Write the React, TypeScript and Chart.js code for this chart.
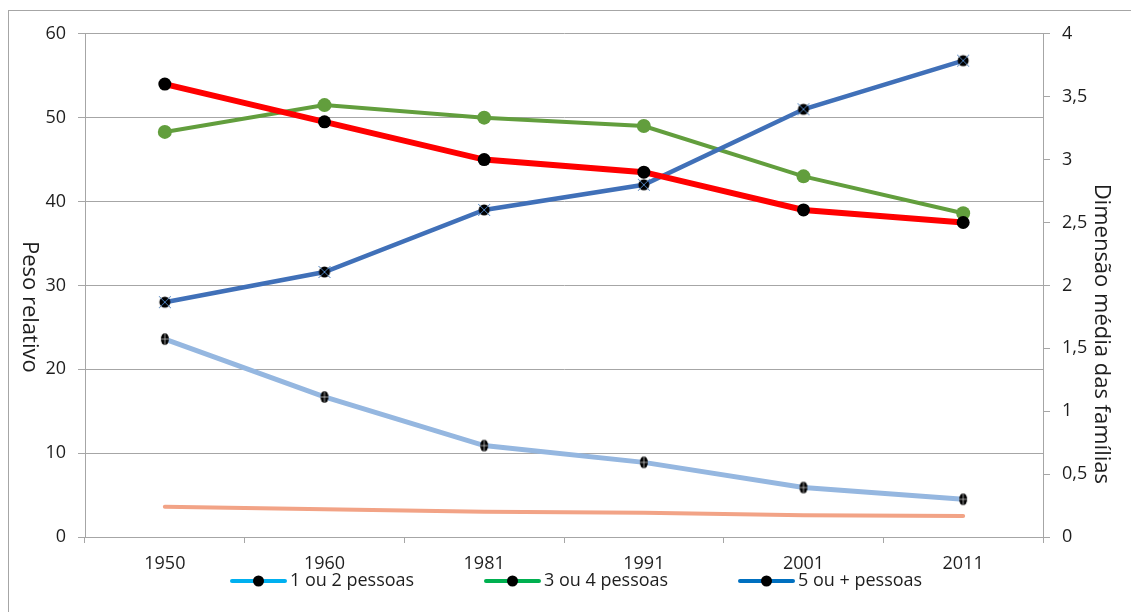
import React, { useEffect, useRef } from "react";
import { Chart, registerables } from "chart.js";

Chart.register(...registerables);

// ---- data ----
const categories = ["1950", "1960", "1981", "1991", "2001", "2011"];
const persons1or2 = [28, 31.6, 39, 42, 51, 56.8];
const persons3or4 = [48.3, 51.5, 50, 49, 43, 38.6];
const persons5plus = [23.6, 16.7, 10.9, 8.9, 5.9, 4.5];
const avgFamilySize = [3.6, 3.3, 3.0, 2.9, 2.6, 2.5];
const leftAxisMax = 60;
const leftAxisStep = 10;
const rightAxisMax = 4;
const rightAxisStep = 0.5;
const leftTitle = "Peso relativo";
const rightTitle = "Dimensão média das famílias";
const legendLabels = ["1 ou 2 pessoas", "3 ou 4 pessoas", "5 ou + pessoas"];
const legendColors = ["#00B0F0", "#00B050", "#0070C0"];

const FONT = '"Open Sans", "Noto Sans", sans-serif';
const TEXT = "#1e1e1e";
const GRID = "#A6A6A6";

function makeMarker(w: number, h: number, draw: (c: CanvasRenderingContext2D) => void) {
  const cv = document.createElement("canvas");
  cv.width = w;
  cv.height = h;
  const c = cv.getContext("2d")!;
  draw(c);
  return cv;
}

const decorPlugin = {
  id: "decor",
  afterDraw(chart: any) {
    const ctx = chart.ctx as CanvasRenderingContext2D;
    const area = chart.chartArea;
    ctx.save();
    ctx.fillStyle = TEXT;
    ctx.font = `22px ${FONT}`;
    ctx.textAlign = "center";
    ctx.textBaseline = "middle";
    // left axis title (rotated clockwise)
    ctx.save();
    ctx.translate(area.left - 56, area.top + 273);
    ctx.rotate(Math.PI / 2);
    ctx.fillText(leftTitle, 0, 0);
    ctx.restore();
    // right axis title
    ctx.save();
    ctx.translate(area.right + 58, area.top + 300);
    ctx.rotate(Math.PI / 2);
    ctx.fillText(rightTitle, 0, 0);
    ctx.restore();

    // legend
    ctx.font = `18px ${FONT}`;
    ctx.textAlign = "left";
    const ly = area.bottom + 44;
    legendLabels.forEach((lab, i) => {
      const x0 = 223 + i * 254;
      ctx.strokeStyle = legendColors[i];
      ctx.lineWidth = 4;
      ctx.lineCap = "round";
      ctx.beginPath();
      ctx.moveTo(x0, ly);
      ctx.lineTo(x0 + 53, ly);
      ctx.stroke();
      ctx.fillStyle = "#000";
      ctx.beginPath();
      ctx.arc(x0 + 26.5, ly, 5.5, 0, Math.PI * 2);
      ctx.fill();
      ctx.fillStyle = TEXT;
      ctx.fillText(lab, x0 + 58, ly);
    });
    ctx.restore();
  },
};

export default function App() {
  const ref = useRef<HTMLCanvasElement | null>(null);

  useEffect(() => {
    if (!ref.current) return;
    const darkBlueMarker = makeMarker(16, 16, (c) => {
      c.fillStyle = "#000";
      c.beginPath();
      c.arc(8, 8, 5.5, 0, Math.PI * 2);
      c.fill();
      c.strokeStyle = "#4F81BD";
      c.lineWidth = 1;
      c.beginPath();
      c.moveTo(2, 2);
      c.lineTo(14, 14);
      c.moveTo(14, 2);
      c.lineTo(2, 14);
      c.stroke();
    });
    const lightBlueMarker = makeMarker(10, 14, (c) => {
      c.fillStyle = "#000";
      c.beginPath();
      c.ellipse(5, 7, 4, 6, 0, 0, Math.PI * 2);
      c.fill();
      c.strokeStyle = "rgba(255,255,255,0.6)";
      c.lineWidth = 1;
      c.beginPath();
      c.moveTo(5, 1);
      c.lineTo(5, 13);
      c.moveTo(1, 7);
      c.lineTo(9, 7);
      c.stroke();
    });

    const tickFont = { family: FONT, size: 18 };

    const chart = new Chart(ref.current, {
      type: "line",
      data: {
        labels: categories,
        datasets: [
          {
            label: "Dimensão média",
            data: avgFamilySize,
            yAxisID: "y1",
            borderColor: "#FF0000",
            borderWidth: 6,
            pointStyle: "circle",
            pointRadius: 6.5,
            pointBackgroundColor: "#000",
            pointBorderWidth: 0,
            tension: 0,
          },
          {
            label: legendLabels[0],
            data: persons1or2,
            yAxisID: "y",
            borderColor: "#4070B8",
            borderWidth: 4.5,
            pointStyle: darkBlueMarker as any,
            pointRadius: 6,
            tension: 0,
          },
          {
            label: legendLabels[1],
            data: persons3or4,
            yAxisID: "y",
            borderColor: "#629E3D",
            borderWidth: 4,
            pointStyle: "circle",
            pointRadius: 7,
            pointBackgroundColor: "#629E3D",
            pointBorderWidth: 0,
            tension: 0,
          },
          {
            label: legendLabels[2],
            data: persons5plus,
            yAxisID: "y",
            borderColor: "#95B7E0",
            borderWidth: 5,
            pointStyle: lightBlueMarker as any,
            pointRadius: 5,
            tension: 0,
          },
          {
            label: "Dimensão média (eixo principal)",
            data: avgFamilySize,
            yAxisID: "y",
            borderColor: "#F2A386",
            borderWidth: 4,
            pointRadius: 0,
            borderCapStyle: "round",
            tension: 0,
          },
        ],
      },
      options: {
        animation: false,
        responsive: false,
        devicePixelRatio: 1,
        layout: { padding: { top: 21, left: 0, right: 0, bottom: 0 } },
        plugins: {
          legend: { display: false },
          tooltip: { enabled: false },
        },
        scales: {
          x: {
            type: "category",
            offset: true,
            grid: {
              offset: true,
              drawOnChartArea: false,
              drawTicks: true,
              tickLength: 6,
              color: GRID,
            },
            border: { display: true, color: GRID },
            ticks: { color: TEXT, font: tickFont, padding: 10, maxRotation: 0 },
            afterFit: (s: any) => {
              s.height = 75;
            },
          },
          y: {
            position: "left",
            min: 0,
            max: leftAxisMax,
            ticks: { stepSize: leftAxisStep, color: TEXT, font: tickFont, padding: 12 },
            grid: { color: GRID, lineWidth: 1, tickLength: 7, drawTicks: true },
            border: { display: true, color: GRID },
            afterFit: (s: any) => {
              s.width = 76;
            },
          },
          y1: {
            position: "right",
            min: 0,
            max: rightAxisMax,
            ticks: {
              stepSize: rightAxisStep,
              color: TEXT,
              font: tickFont,
              padding: 12,
              callback: (v: any) => String(v).replace(".", ","),
            },
            grid: { drawOnChartArea: false, color: GRID, tickLength: 7, drawTicks: true },
            border: { display: true, color: GRID },
            afterFit: (s: any) => {
              s.width = 88;
            },
          },
        },
      },
      plugins: [decorPlugin],
    });
    return () => chart.destroy();
  }, []);

  return (
    <div
      style={{
        position: "fixed",
        left: 8,
        top: 10,
        width: 1122,
        height: 601,
        borderLeft: `1px solid ${GRID}`,
        borderTop: `1px solid ${GRID}`,
        background: "#fff",
      }}
    >
      <canvas ref={ref} width={1122} height={601} style={{ display: "block" }} />
    </div>
  );
}
